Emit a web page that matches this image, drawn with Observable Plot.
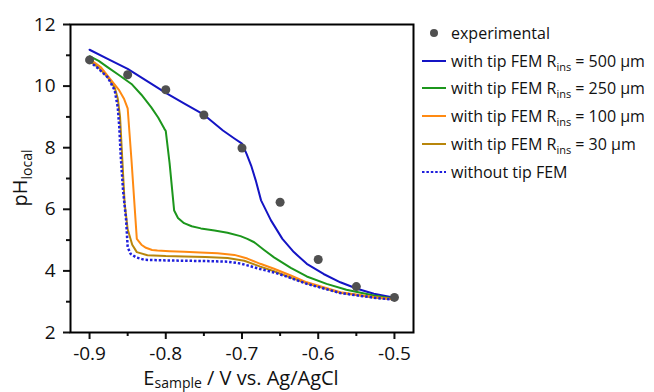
<!DOCTYPE html>
<html><head><meta charset="utf-8">
<script src="https://cdn.jsdelivr.net/npm/d3@7"></script>
<script src="https://cdn.jsdelivr.net/npm/@observablehq/plot@0.6"></script>
<style>
body{margin:0;background:#fff;}
#wrap{position:relative;width:654px;height:392px;font-family:"Open Sans",sans-serif;}
#legend{position:absolute;left:422px;top:19px;font-size:16px;color:#111;}
.row{display:flex;align-items:center;height:27.8px;white-space:nowrap;}
.row svg{width:26px;height:10px;margin-right:3px;flex:none}
.row sub{font-size:11px;vertical-align:-4px;line-height:0;}
</style></head><body><div id="wrap"><div id="legend"></div></div>
<script>
// experimental
const expE  = [-0.9,-0.85,-0.8,-0.75,-0.7,-0.65,-0.6,-0.55,-0.5];
const expPH = [10.85,10.37,9.88,9.06,7.99,6.23,4.37,3.49,3.14];
// with tip FEM R_ins = 500 µm
const E500  = [-0.9,-0.875,-0.85,-0.825,-0.8,-0.775,-0.75,-0.725,-0.71,-0.7,-0.694,-0.688,-0.682,-0.675,-0.662,-0.647,-0.632,-0.615,-0.593,-0.571,-0.549,-0.527,-0.5];
const pH500 = [11.18,10.87,10.56,10.17,9.78,9.42,9.07,8.56,8.3,8.13,7.8,7.42,6.94,6.29,5.64,5.04,4.61,4.23,3.9,3.63,3.42,3.26,3.13];
// 250 µm
const E250  = [-0.9,-0.888,-0.876,-0.862,-0.845,-0.832,-0.819,-0.81,-0.802,-0.8,-0.795,-0.789,-0.784,-0.776,-0.766,-0.754,-0.736,-0.719,-0.702,-0.693,-0.684,-0.671,-0.658,-0.636,-0.615,-0.589,-0.563,-0.527,-0.5];
const pH250 = [10.97,10.82,10.61,10.37,10.07,9.72,9.31,8.98,8.62,8.54,7.5,5.96,5.72,5.55,5.45,5.38,5.31,5.24,5.13,5.04,4.93,4.68,4.44,4.1,3.82,3.58,3.39,3.2,3.1];
// 100 µm
const E100  = [-0.9,-0.885,-0.872,-0.861,-0.855,-0.85,-0.845,-0.838,-0.832,-0.826,-0.818,-0.811,-0.795,-0.776,-0.755,-0.732,-0.71,-0.693,-0.676,-0.658,-0.636,-0.615,-0.571,-0.527,-0.5];
const pH100 = [10.88,10.61,10.2,9.86,9.6,9.28,7.6,5.04,4.85,4.75,4.68,4.66,4.64,4.62,4.6,4.57,4.52,4.4,4.23,4.07,3.85,3.63,3.31,3.15,3.08];
// 30 µm
const E30   = [-0.9,-0.888,-0.876,-0.867,-0.863,-0.86,-0.857,-0.854,-0.85,-0.844,-0.838,-0.824,-0.8,-0.776,-0.748,-0.719,-0.697,-0.676,-0.658,-0.636,-0.615,-0.571,-0.527,-0.5];
const pH30  = [10.82,10.6,10.28,9.95,9.6,9.0,7.6,6.2,5.35,4.85,4.61,4.51,4.48,4.47,4.45,4.42,4.33,4.14,3.99,3.78,3.6,3.29,3.14,3.07];
// without tip FEM
const E0    = [-0.9,-0.889,-0.876,-0.867,-0.863,-0.861,-0.859,-0.856,-0.852,-0.85,-0.846,-0.839,-0.828,-0.8,-0.776,-0.748,-0.719,-0.702,-0.693,-0.676,-0.658,-0.636,-0.615,-0.571,-0.527,-0.5];
const pH0   = [10.8,10.58,10.28,9.86,9.31,8.67,7.69,6.6,5.64,4.77,4.55,4.44,4.36,4.34,4.33,4.32,4.3,4.24,4.18,4.06,3.95,3.77,3.58,3.28,3.13,3.06];

const xMajor = [-0.9,-0.8,-0.7,-0.6,-0.5];
const xMinor = [-0.85,-0.75,-0.65,-0.55];
const yMajor = [2,4,6,8,10,12];
const yMinor = [3,5,7,9,11];

const DASH = "2.5,1.9";
const series = [
  {name:"with tip FEM R", sub:"ins", rest:" = 500 μm", E:E500, pH:pH500, color:"#1414c4", dash:null},
  {name:"with tip FEM R", sub:"ins", rest:" = 250 μm", E:E250, pH:pH250, color:"#1c961c", dash:null},
  {name:"with tip FEM R", sub:"ins", rest:" = 100 μm", E:E100, pH:pH100, color:"#ff8a12", dash:null},
  {name:"with tip FEM R", sub:"ins", rest:" = 30 μm",  E:E30,  pH:pH30,  color:"#b8860b", dash:null},
  {name:"without tip FEM", sub:"", rest:"", E:E0, pH:pH0, color:"#1f1fdc", dash:DASH}
];
const drawOrder = [0,1,3,2,4];
const toRows = s => s.E.map((e,i)=>({E:e, pH:s.pH[i]}));
const expRows = expE.map((e,i)=>({E:e, pH:expPH[i]}));

const marks = [];
for (const k of drawOrder) {
  const s = series[k];
  const opts = {x:"E", y:"pH", stroke:s.color, strokeWidth: s.dash ? 2.5 : 2};
  if (s.dash) { opts.strokeDasharray = s.dash; opts.strokeLinecap = "butt"; opts.strokeLinejoin = "miter"; }
  marks.push(Plot.line(toRows(s), opts));
}
marks.push(Plot.dot(expRows, {x:"E", y:"pH", r:4.5, fill:"#505050", stroke:"none"}));
marks.push(Plot.axisX(xMajor, {tickSize:7, tickPadding:7, fontSize:19, tickFormat:d=>d.toFixed(1), strokeWidth:2, label:null}));
marks.push(Plot.axisX(xMinor, {tickSize:4, tickFormat:()=>"", strokeWidth:2, label:null}));
marks.push(Plot.axisY(yMajor, {tickSize:7, tickPadding:8, fontSize:19, tickFormat:d=>String(d), strokeWidth:2, label:null}));
marks.push(Plot.axisY(yMinor, {tickSize:4, tickFormat:()=>"", strokeWidth:2, label:null}));
marks.push(Plot.frame({stroke:"#000", strokeWidth:2}));

const svg = Plot.plot({
  width:654, height:392,
  marginLeft:70, marginRight:241, marginTop:24, marginBottom:60,
  x:{domain:[-0.925,-0.475], label:null},
  y:{domain:[2,12], label:null},
  style:{fontFamily:"Open Sans, sans-serif", color:"#111", background:"#fff", overflow:"visible"},
  marks
});
document.getElementById("wrap").prepend(svg);

// axis titles with subscripts
const s = d3.select(svg);
const xt = s.append("text").attr("x",241).attr("y",385).attr("text-anchor","middle")
  .attr("font-size",20).attr("fill","#111").attr("font-family","Open Sans, sans-serif");
xt.append("tspan").text("E");
xt.append("tspan").attr("font-size",14).attr("dy",3).text("sample");
xt.append("tspan").attr("dy",-3).text(" / V vs. Ag/AgCl");
const yt = s.append("text").attr("transform","translate(27,178) rotate(-90)").attr("text-anchor","middle")
  .attr("font-size",20).attr("fill","#111").attr("font-family","Open Sans, sans-serif");
yt.append("tspan").text("pH");
yt.append("tspan").attr("font-size",14).attr("dy",5).text("local");

// legend
const leg = document.getElementById("legend");
const ns = "http://www.w3.org/2000/svg";
function row(swatch, html){
  const r = document.createElement("div"); r.className="row";
  r.appendChild(swatch);
  const t = document.createElement("span"); t.innerHTML = html; r.appendChild(t);
  leg.appendChild(r);
}
{
  const sw = document.createElementNS(ns,"svg");
  const c = document.createElementNS(ns,"circle");
  c.setAttribute("cx",12); c.setAttribute("cy",5); c.setAttribute("r",4); c.setAttribute("fill","#505050");
  sw.appendChild(c); row(sw, "experimental");
}
for (const se of series) {
  const sw = document.createElementNS(ns,"svg");
  const l = document.createElementNS(ns,"line");
  l.setAttribute("x1",0); l.setAttribute("x2",24); l.setAttribute("y1",5); l.setAttribute("y2",5);
  l.setAttribute("stroke",se.color); l.setAttribute("stroke-width",2);
  if (se.dash) l.setAttribute("stroke-dasharray",DASH);
  sw.appendChild(l);
  row(sw, se.name + (se.sub ? "<sub>"+se.sub+"</sub>" : "") + se.rest);
}
</script></body></html>
